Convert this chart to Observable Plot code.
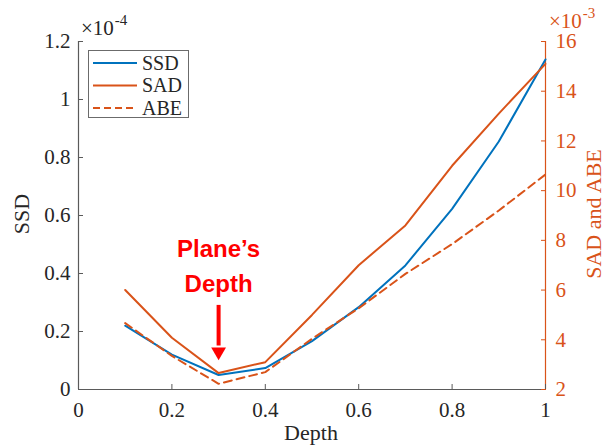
<!DOCTYPE html>
<html>
<head>
<meta charset="utf-8">
<script src="https://cdn.jsdelivr.net/npm/d3@7"></script>
<script src="https://cdn.jsdelivr.net/npm/@observablehq/plot@0.6"></script>
<style>
  body { margin: 0; background: #fff; }
  #wrap { position: relative; width: 603px; height: 448px; overflow: hidden; font-family: "Liberation Serif", "Times New Roman", serif; }
  #wrap svg { display: block; }
  .abs { position: absolute; white-space: nowrap; line-height: 1; }
  .exp { font-size: 21px; }
  .exp sup { font-size: 15px; position: relative; top: -10px; vertical-align: baseline; margin-left: 1px; }
  .ttl { font-size: 22px; color: #262626; }
</style>
</head>
<body>
<div id="wrap"></div>
<script>
// Matching cost versus candidate depth
const depth = [0.1, 0.2, 0.3, 0.4, 0.5, 0.6, 0.7, 0.8, 0.9, 1.0];
const ssd = [0.22, 0.12, 0.05, 0.074, 0.167, 0.284, 0.428, 0.623, 0.855, 1.138];   // ×10^-4
const sad = [6.0, 4.08, 2.66, 3.1, 5.0, 7.0, 8.6, 11.0, 13.1, 15.1];                // ×10^-3
const abe = [4.67, 3.35, 2.23, 2.7, 4.04, 5.27, 6.65, 7.85, 9.2, 10.65];            // ×10^-3

const xTicks = [0, 0.2, 0.4, 0.6, 0.8, 1];
const leftTicks = [0, 0.2, 0.4, 0.6, 0.8, 1, 1.2];
const rightTicks = [2, 4, 6, 8, 10, 12, 14, 16];
const seriesNames = ["SSD", "SAD", "ABE"];
const annotationText = "Plane\u2019s\nDepth";
const planeDepth = 0.3;

const blue = "#0072BD";
const orange = "#D95319";
const axisGray = "#5a5a5a";
const textDark = "#262626";
const serif = '"Liberation Serif", "Times New Roman", serif';

const rows = depth.map((d, i) => ({depth: d, ssd: ssd[i], sad: sad[i], abe: abe[i]}));

// The right-hand axis (SAD and ABE) is drawn onto the left-hand y scale
const L0 = 0, L1 = 1.2, R0 = 2, R1 = 16;
const toLeft = v => L0 + (v - R0) / (R1 - R0) * (L1 - L0);
const fromLeft = y => R0 + (y - L0) / (L1 - L0) * (R1 - R0);

const chart = Plot.plot({
  width: 603,
  height: 448,
  marginLeft: 78,
  marginRight: 58,
  marginTop: 41,
  marginBottom: 59,
  x: {domain: [0, 1]},
  y: {domain: [L0, L1]},
  style: {fontFamily: serif, fontSize: "21px", background: "white", color: textDark},
  marks: [
    // axis lines
    Plot.ruleX([0], {stroke: axisGray, strokeWidth: 1.2}),
    Plot.ruleY([0], {stroke: axisGray, strokeWidth: 1.2}),
    Plot.ruleX([1], {stroke: orange, strokeWidth: 1.2}),
    // axes with inward ticks
    Plot.axisX(xTicks, {tickSize: -5, tickPadding: 18, stroke: axisGray, fill: textDark, label: null, fontFamily: serif, tickFormat: d => String(d)}),
    Plot.axisY(leftTicks, {anchor: "left", tickSize: -5, tickPadding: 13, stroke: axisGray, fill: textDark, label: null, fontFamily: serif, tickFormat: d => String(d)}),
    Plot.axisY(rightTicks.map(toLeft), {anchor: "right", tickSize: -5, tickPadding: 15, stroke: orange, fill: orange, label: null, fontFamily: serif,
      tickFormat: y => String(Math.round(fromLeft(y)))}),
    // series
    Plot.line(rows, {x: "depth", y: "ssd", stroke: blue, strokeWidth: 2}),
    Plot.line(rows, {x: "depth", y: d => toLeft(d.sad), stroke: orange, strokeWidth: 2}),
    Plot.line(rows, {x: "depth", y: d => toLeft(d.abe), stroke: orange, strokeWidth: 2, strokeDasharray: "8,5"}),
    // annotation marking the plane's depth
    Plot.text([annotationText], {x: planeDepth, y: 0.435, text: d => d, fill: "#ff0000", fontSize: 24, fontWeight: "bold",
      fontFamily: '"Liberation Sans", Arial, sans-serif', lineHeight: 1.45, lineAnchor: "middle"}),
    Plot.ruleX([planeDepth], {y1: 0.29, y2: 0.15, stroke: "#ff0000", strokeWidth: 4}),
    Plot.dot([planeDepth], {x: d => d, y: 0.13, symbol: "triangle", rotate: 180, r: 5.5, fill: "#ff0000", stroke: "none"})
  ]
});

const wrap = document.getElementById("wrap");
wrap.appendChild(chart);

function addDiv(cls, html, style) {
  const el = document.createElement("div");
  el.className = "abs " + cls;
  el.innerHTML = html;
  Object.assign(el.style, style);
  wrap.appendChild(el);
  return el;
}

// exponent labels
addDiv("exp", "\u00d710<sup>-4</sup>", {left: "81px", top: "18px", color: textDark});
addDiv("exp", "\u00d710<sup>-3</sup>", {left: "549px", top: "11px", color: orange});

// axis titles
addDiv("ttl", "Depth", {left: "311px", top: "422px", transform: "translateX(-50%)"});
addDiv("ttl", "SSD", {left: "22px", top: "214px", transform: "translate(-50%,-50%) rotate(-90deg)"});
addDiv("ttl", "SAD and ABE", {left: "594px", top: "214px", color: orange, transform: "translate(-50%,-50%) rotate(-90deg)"});

// legend
const legendStyles = [
  {stroke: blue, dash: null},
  {stroke: orange, dash: null},
  {stroke: orange, dash: "7,4"}
];
const legend = d3.create("svg")
  .attr("width", 101).attr("height", 68)
  .style("position", "absolute").style("left", "88px").style("top", "50px");
legend.append("rect").attr("x", 0.5).attr("y", 0.5).attr("width", 100).attr("height", 67)
  .attr("fill", "white").attr("stroke", "#6b6b6b");
seriesNames.forEach((name, i) => {
  const cy = 13 + i * 22.5;
  legend.append("line").attr("x1", 5).attr("x2", 49).attr("y1", cy).attr("y2", cy)
    .attr("stroke", legendStyles[i].stroke).attr("stroke-width", 2)
    .attr("stroke-dasharray", legendStyles[i].dash);
  legend.append("text").attr("x", 54).attr("y", cy).attr("dy", "0.34em")
    .attr("font-family", serif).attr("font-size", 20)
    .attr("fill", textDark).text(name);
});
wrap.appendChild(legend.node());
</script>
</body>
</html>
